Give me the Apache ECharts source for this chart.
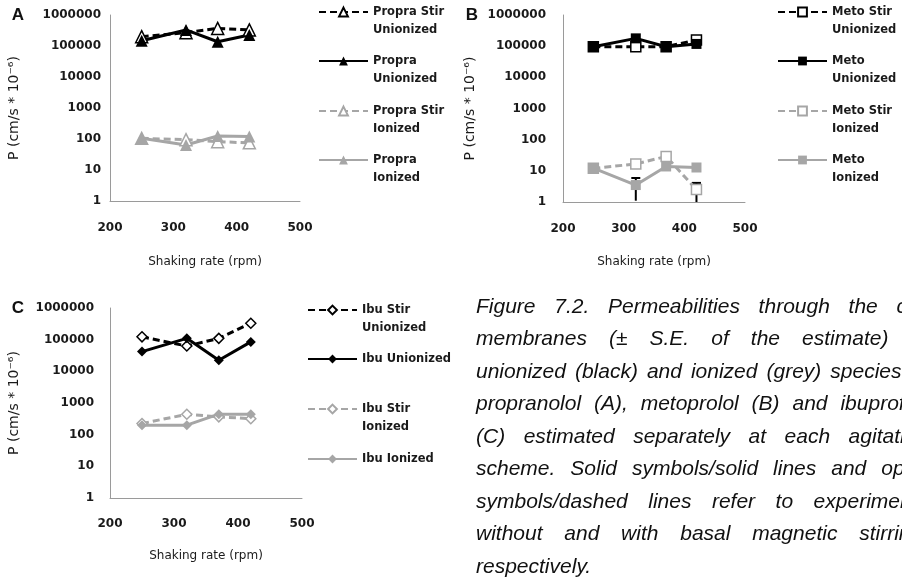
<!DOCTYPE html>
<html>
<head>
<meta charset="utf-8">
<script src="https://cdn.jsdelivr.net/npm/echarts@6/dist/echarts.min.js"></script>
<style>
  html, body { margin: 0; padding: 0; background: #ffffff; }
  #chart { width: 902px; height: 579px; }
</style>
</head>
<body>
<div id="chart"></div>
<script>
// Shaking rates (rpm) and axis ticks
const rpm = [250, 320, 370, 420];
const xTicks = [200, 300, 400, 500];
const yTicks = [1, 10, 100, 1000, 10000, 100000, 1000000];

// A: propranolol permeabilities, P (cm/s * 10^-6)
const propraStirUnionized = [200000, 270000, 370000, 330000];
const propraUnionized     = [148000, 330000, 137000, 226000];
const propraStirIonized   = [105, 95, 82, 75];
const propraIonized       = [105, 64, 125, 120];

// B: metoprolol
const metoStirUnionized = [96000, 96000, 96000, 158000];
const metoUnionized     = [96000, 178000, 96000, 118000];
const metoStirIonized   = [12, 16.6, 29, 2.5];
const metoIonized       = [12.3, 3.5, 13.8, 12.8];
// standard errors of the estimate (only the visible bars)
const metoStirIonizedSE = [null, null, null, 1.6];
const metoIonizedSE     = [null, 2.4, null, null];

// C: ibuprofen
const ibuStirUnionized = [123000, 63000, 110000, 330000];
const ibuUnionized     = [42000, 110000, 22500, 85000];
const ibuStirIonized   = [225, 440, 365, 320];
const ibuIonized       = [199, 199, 445, 445];

// Legend labels
const legendLabels = {
  'Propra Stir Unionized': 'Propra Stir\nUnionized',
  'Propra Unionized': 'Propra\nUnionized',
  'Propra Stir Ionized': 'Propra Stir\nIonized',
  'Propra Ionized': 'Propra\nIonized',
  'Meto Stir Unionized': 'Meto Stir\nUnionized',
  'Meto Unionized': 'Meto\nUnionized',
  'Meto Stir Ionized': 'Meto Stir\nIonized',
  'Meto Ionized': 'Meto\nIonized',
  'Ibu Stir Unionized': 'Ibu Stir\nUnionized',
  'Ibu Unionized': 'Ibu Unionized',
  'Ibu Stir Ionized': 'Ibu Stir\nIonized',
  'Ibu Ionized': 'Ibu Ionized'
};

// Caption lines (justified except the last)
const captionLines = [
  'Figure 7.2. Permeabilities through the cell',
  'membranes (\u00B1 S.E. of the estimate) of',
  'unionized (black) and ionized (grey) species of',
  'propranolol (A), metoprolol (B) and ibuprofen',
  '(C) estimated separately at each agitation',
  'scheme. Solid symbols/solid lines and open',
  'symbols/dashed lines refer to experiments',
  'without and with basal magnetic stirring,',
  'respectively.'
];

const BLACK = '#000000';
const GREY = '#a6a6a6';
const TEXT = '#1a1a1a';
const FONT = '"DejaVu Sans", sans-serif';

const grids = [
  { left: 110, top: 15, width: 190, height: 186 },
  { left: 563, top: 15, width: 182, height: 187 },
  { left: 110, top: 308, width: 192, height: 190 }
];

function xAxis(gridIndex, nameGap, labelMargin) {
  return {
    type: 'value', gridIndex, min: xTicks[0], max: xTicks[xTicks.length - 1], interval: 100,
    axisLine: { show: true, lineStyle: { color: '#9a9a9a', width: 1 } },
    axisTick: { show: false },
    splitLine: { show: false },
    axisLabel: { color: TEXT, fontFamily: FONT, fontSize: 12, fontWeight: 'bold', margin: labelMargin },
    name: 'Shaking rate (rpm)', nameLocation: 'middle', nameGap,
    nameTextStyle: { color: TEXT, fontFamily: FONT, fontSize: 12 }
  };
}

function yAxis(gridIndex, nameGap, labelMargin) {
  return {
    type: 'log', logBase: 10, gridIndex,
    min: yTicks[0], max: yTicks[yTicks.length - 1], splitNumber: 6,
    axisLine: { show: true, lineStyle: { color: '#9a9a9a', width: 1 } },
    axisTick: { show: false },
    splitLine: { show: false },
    axisLabel: {
      color: TEXT, fontFamily: FONT, fontSize: 12, fontWeight: 'bold', margin: labelMargin,
      formatter: v => String(Math.round(v))
    },
    name: 'P (cm/s * 10\u207B\u2076)', nameLocation: 'middle', nameGap,
    nameTextStyle: { color: TEXT, fontFamily: FONT, fontSize: 14 }
  };
}

function lineSeries(name, idx, values, color, dashed, symbol, open) {
  return {
    name, type: 'line', xAxisIndex: idx, yAxisIndex: idx,
    data: rpm.map((x, i) => [x, values[i]]),
    symbol, symbolSize: symbol === 'triangle' ? 12 : 10,
    showSymbol: true, color,
    lineStyle: { color, width: 3, type: dashed ? [7, 4] : 'solid' },
    itemStyle: open
      ? { color: '#ffffff', borderColor: color, borderWidth: 1.5 }
      : { color, borderColor: color, borderWidth: 0 },
    emphasis: { disabled: true },
    animation: false
  };
}

function errorSeries(idx, values, se) {
  const data = [];
  rpm.forEach((x, i) => { if (se[i] != null) data.push([x, values[i], se[i]]); });
  return {
    type: 'custom', xAxisIndex: idx, yAxisIndex: idx, z: 1,
    data, silent: true, animation: false,
    renderItem(params, api) {
      const x = api.value(0), v = api.value(1), e = api.value(2);
      const hi = api.coord([x, v + e]);
      const lo = api.coord([x, Math.max(v - e, yTicks[0])]);
      const s = { stroke: BLACK, lineWidth: 2 };
      return {
        type: 'group',
        children: [
          { type: 'line', shape: { x1: hi[0], y1: hi[1], x2: lo[0], y2: lo[1] }, style: s },
          { type: 'line', shape: { x1: hi[0] - 4.5, y1: hi[1], x2: hi[0] + 4.5, y2: hi[1] }, style: s }
        ]
      };
    }
  };
}

// one legend box per entry so each row sits at its own height;
// two-line labels get an empty leading line so the first line sits on the icon
function legendItem(name, left, iconY) {
  const lh = 18;
  const twoLine = legendLabels[name].indexOf('\n') >= 0;
  const offset = twoLine ? (lh * 3) / 2 : lh / 2;
  return {
    data: [name], left, top: iconY - offset, orient: 'vertical',
    padding: 0, itemWidth: 49, itemHeight: 11, itemGap: 0,
    selectedMode: false,
    formatter: n => (twoLine ? '\n' : '') + legendLabels[n],
    textStyle: {
      color: TEXT, fontFamily: FONT, fontSize: 11.5, fontWeight: 'bold', lineHeight: lh
    }
  };
}

const legendRowsTop = [12, 61, 111, 160];
const legendRowsC = [310, 359, 409, 459];
const namesA = ['Propra Stir Unionized', 'Propra Unionized', 'Propra Stir Ionized', 'Propra Ionized'];
const namesB = ['Meto Stir Unionized', 'Meto Unionized', 'Meto Stir Ionized', 'Meto Ionized'];
const namesC = ['Ibu Stir Unionized', 'Ibu Unionized', 'Ibu Stir Ionized', 'Ibu Ionized'];

const legends = [];
namesA.forEach((n, i) => legends.push(legendItem(n, 318, legendRowsTop[i])));
namesB.forEach((n, i) => legends.push(legendItem(n, 777, legendRowsTop[i])));
namesC.forEach((n, i) => legends.push(legendItem(n, 307, legendRowsC[i])));

// Justified italic caption, laid out word by word
const captionFont = 'italic 21px "Liberation Sans"';
const measureCtx = document.createElement('canvas').getContext('2d');
measureCtx.font = captionFont;
const captionLeft = 476, captionRight = 928, captionTop = 307, captionStep = 32.5;
const captionElements = [];
captionLines.forEach((line, li) => {
  const words = line.split(' ');
  const widths = words.map(w => measureCtx.measureText(w).width);
  const total = widths.reduce((a, b) => a + b, 0);
  const last = li === captionLines.length - 1;
  const gap = (last || words.length < 2)
    ? measureCtx.measureText(' ').width
    : (captionRight - captionLeft - total) / (words.length - 1);
  let x = captionLeft;
  words.forEach((w, wi) => {
    captionElements.push({
      type: 'text', x, y: captionTop + li * captionStep, silent: true,
      style: {
        text: w, fill: '#111111', fontFamily: '"Liberation Sans"', fontSize: 21,
        fontStyle: 'italic', verticalAlign: 'middle', align: 'left'
      }
    });
    x += widths[wi] + gap;
  });
});

const panelLetters = [
  { t: 'A', x: 18, y: 15 },
  { t: 'B', x: 472, y: 15 },
  { t: 'C', x: 18, y: 308 }
].map(p => ({
  type: 'text', x: p.x, y: p.y, silent: true,
  style: {
    text: p.t, fill: '#111111', fontFamily: '"Liberation Sans"', fontSize: 17,
    fontWeight: 'bold', align: 'center', verticalAlign: 'middle'
  }
}));

const option = {
  backgroundColor: '#ffffff',
  animation: false,
  grid: grids,
  xAxis: [xAxis(0, 55, 21), xAxis(1, 54, 21), xAxis(2, 52, 20)],
  yAxis: [yAxis(0, 89, 9), yAxis(1, 86, 17), yAxis(2, 89, 16)],
  legend: legends,
  series: [
    lineSeries('Propra Stir Unionized', 0, propraStirUnionized, BLACK, true, 'triangle', true),
    lineSeries('Propra Unionized', 0, propraUnionized, BLACK, false, 'triangle', false),
    lineSeries('Propra Stir Ionized', 0, propraStirIonized, GREY, true, 'triangle', true),
    lineSeries('Propra Ionized', 0, propraIonized, GREY, false, 'triangle', false),

    errorSeries(1, metoStirIonized, metoStirIonizedSE),
    errorSeries(1, metoIonized, metoIonizedSE),
    lineSeries('Meto Stir Unionized', 1, metoStirUnionized, BLACK, true, 'rect', true),
    lineSeries('Meto Unionized', 1, metoUnionized, BLACK, false, 'rect', false),
    lineSeries('Meto Stir Ionized', 1, metoStirIonized, GREY, true, 'rect', true),
    lineSeries('Meto Ionized', 1, metoIonized, GREY, false, 'rect', false),

    lineSeries('Ibu Stir Unionized', 2, ibuStirUnionized, BLACK, true, 'diamond', true),
    lineSeries('Ibu Unionized', 2, ibuUnionized, BLACK, false, 'diamond', false),
    lineSeries('Ibu Stir Ionized', 2, ibuStirIonized, GREY, true, 'diamond', true),
    lineSeries('Ibu Ionized', 2, ibuIonized, GREY, false, 'diamond', false)
  ],
  graphic: { elements: panelLetters.concat(captionElements) }
};

const chart = echarts.init(document.getElementById('chart'), null, { renderer: 'canvas' });
chart.setOption(option);
</script>
</body>
</html>
